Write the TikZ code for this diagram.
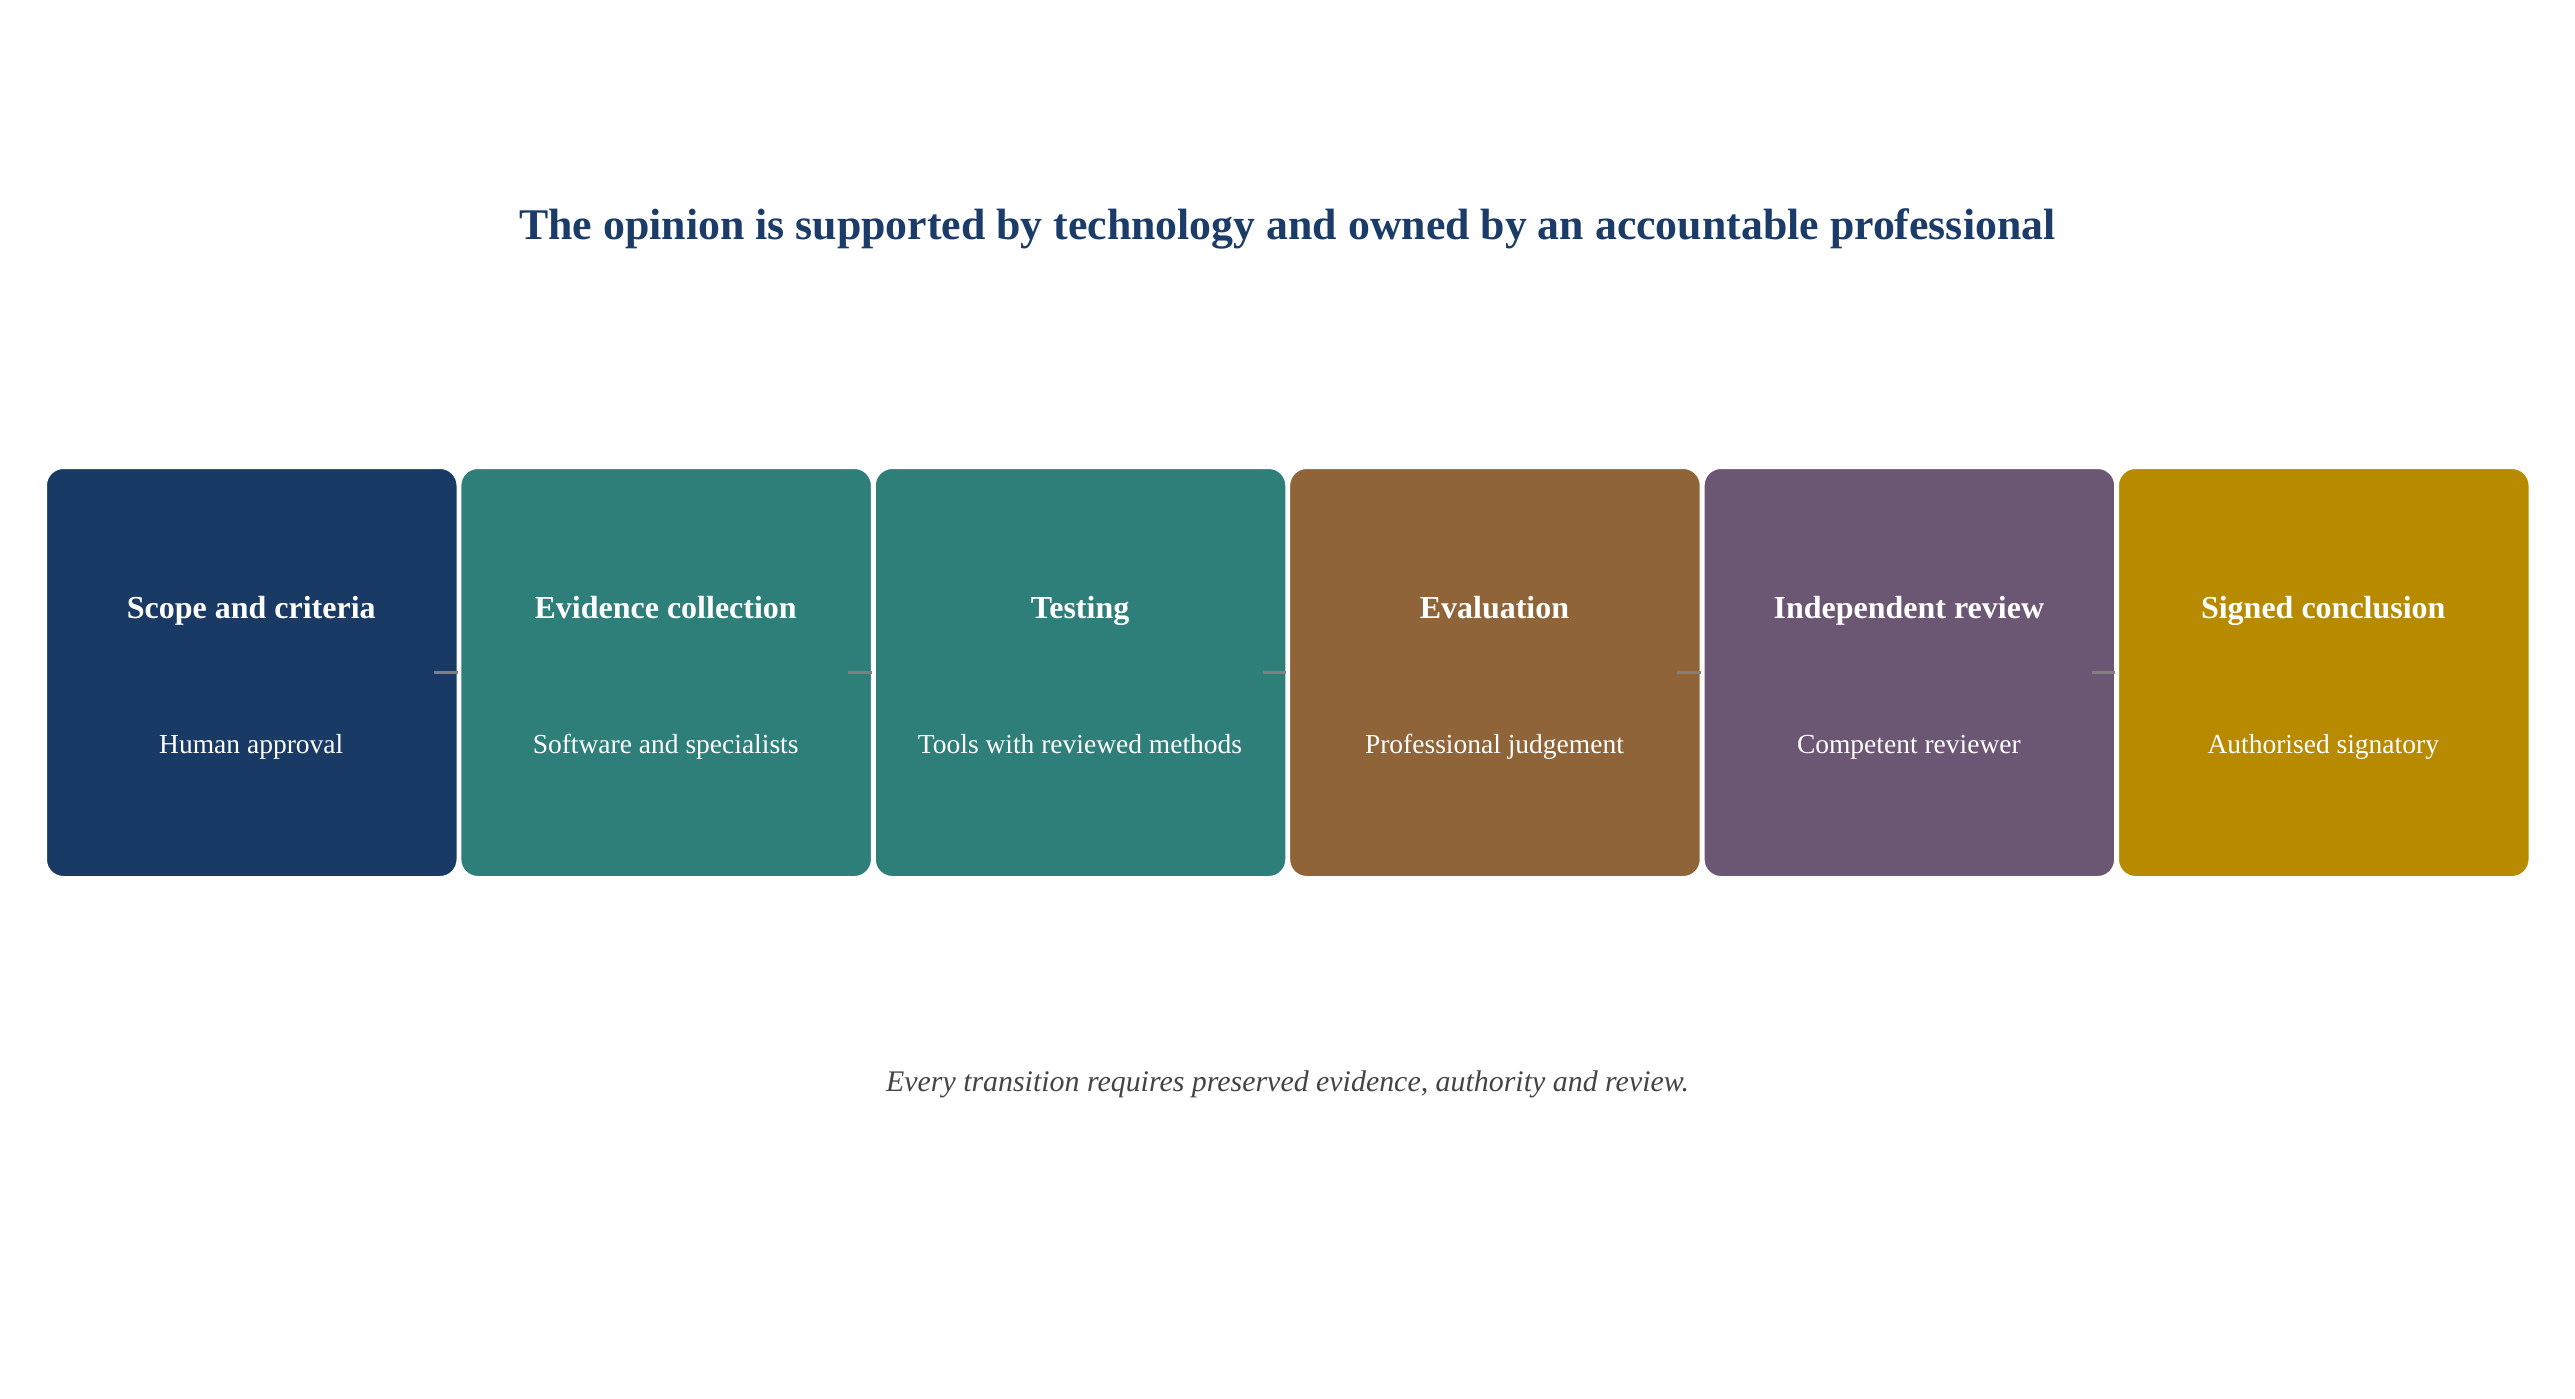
\documentclass[tikz,border=0pt]{standalone}
\usepackage{fontspec}
\setmainfont{Liberation Serif}
\definecolor{navy}{HTML}{1A3A66}
\definecolor{teal}{HTML}{2E7F7A}
\definecolor{brownc}{HTML}{8F6439}
\definecolor{purplec}{HTML}{6B5673}
\definecolor{goldc}{HTML}{B78A00}
\definecolor{titlec}{HTML}{1B3B69}
\definecolor{footc}{HTML}{444444}
\definecolor{linkc}{HTML}{808080}
\tikzset{
  stagebox/.style={draw=white, line width=1pt, rounded corners=17pt, minimum width=410.5pt, minimum height=408pt, inner sep=0pt, anchor=north west},
  stagetitle/.style={text=white, font=\fontsize{32}{38}\selectfont\bfseries, anchor=base, inner sep=0pt},
  stagesub/.style={text=white, font=\fontsize{27.5}{33}\selectfont, anchor=base, inner sep=0pt},
  link/.style={draw=linkc, line width=3pt},
}
\begin{document}
\begin{tikzpicture}[x=1pt,y=-1pt]
\useasboundingbox[fill=white] (0,0) rectangle (2575,1399);
\node[text=titlec, font=\fontsize{43.8}{52}\selectfont\bfseries, anchor=base, inner sep=0pt] (title) at (1287.5,240) {The opinion is supported by technology and owned by an accountable professional};
\foreach \i/\c/\t/\s in {1/navy/Scope and criteria/Human approval,
                         2/teal/Evidence collection/Software and specialists,
                         3/teal/Testing/Tools with reviewed methods,
                         4/brownc/Evaluation/Professional judgement,
                         5/purplec/Independent review/Competent reviewer,
                         6/goldc/Signed conclusion/Authorised signatory}{
  \pgfmathsetmacro{\xl}{46+(\i-1)*414.4}
  \pgfmathsetmacro{\xc}{\xl+205.25}
  \node[stagebox, fill=\c] (b\i) at (\xl,468) {};
  \node[stagetitle] (t\i) at (\xc,618) {\t};
  \node[stagesub] (s\i) at (\xc,753) {\s};
}
\foreach \i in {1,...,5}{
  \draw[link] ([xshift=-23.5pt]b\i.east) -- (b\i.east);
}
\node[text=footc, font=\fontsize{29.9}{36}\selectfont\itshape, anchor=base, inner sep=0pt] (foot) at (1287.5,1091) {Every transition requires preserved evidence, authority and review.};
\end{tikzpicture}
\end{document}
